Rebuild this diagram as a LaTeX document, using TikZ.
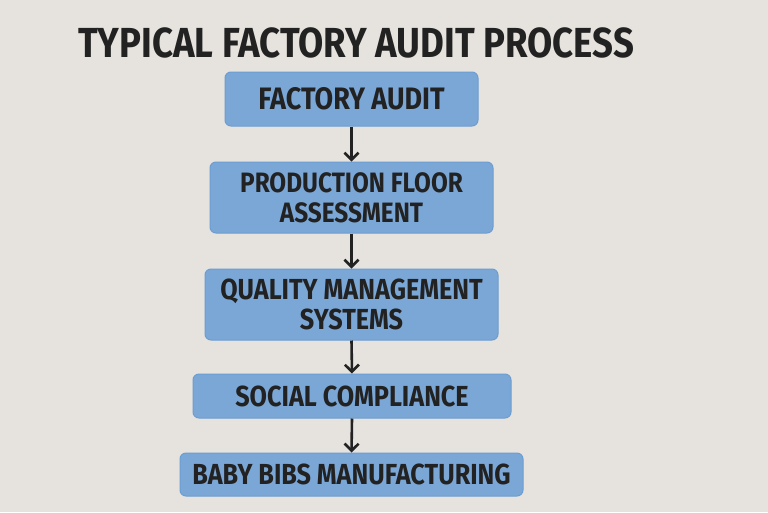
\documentclass[tikz,border=0pt]{standalone}
\usepackage{fontspec}
\newfontfamily\labelfont{Fira Sans}[FakeStretch=0.87]
\usetikzlibrary{arrows.meta}
\definecolor{bgpaper}{HTML}{E6E2DD}
\definecolor{stepblue}{HTML}{7BA7D6}
\definecolor{stepedge}{HTML}{6C9DD2}
\definecolor{inkdark}{HTML}{222222}
\tikzset{stepbox/.style={rectangle, rounded corners=6pt, draw=stepedge, line width=1pt, fill=stepblue, text=inkdark, align=center, inner sep=0pt, font=\labelfont\bfseries\fontsize{#1}{30}\selectfont}, stepbox/.default=28}
\tikzset{flow/.style={draw=inkdark, line width=2.6pt, -{Straight Barb[length=7pt,width=14pt]}}}

\begin{document}
\begin{tikzpicture}[x=1pt,y=-1pt]
  \fill[bgpaper] (0,0) rectangle (768,512);
  \useasboundingbox (0,0) rectangle (768,512);
  \node[anchor=base west, inner sep=0pt, text=inkdark, font=\labelfont\bfseries\fontsize{42}{46}\selectfont] (title) at (78,57) {TYPICAL FACTORY AUDIT PROCESS};
  \node[stepbox=31, minimum width=253pt, minimum height=54pt] (audit) at (351.5,99) {FACTORY AUDIT};
  \node[stepbox=28, minimum width=283pt, minimum height=71pt] (floor) at (351.5,197.5) {PRODUCTION FLOOR\\ASSESSMENT};
  \node[stepbox=29, minimum width=293pt, minimum height=71pt] (quality) at (351.5,304.5) {QUALITY MANAGEMENT\\SYSTEMS};
  \node[stepbox=29, minimum width=318pt, minimum height=44pt] (social) at (352,396) {SOCIAL COMPLIANCE};
  \node[stepbox=29, minimum width=343pt, minimum height=43pt] (bibs) at (351.5,474.5) {BABY BIBS MANUFACTURING};
  \draw[flow] (audit.south) -- (floor.north);
  \draw[flow] (floor.south) -- (quality.north);
  \draw[flow] (quality.south) -- (social.north);
  \draw[flow] (social.south) -- (bibs.north);
\end{tikzpicture}
\end{document}
